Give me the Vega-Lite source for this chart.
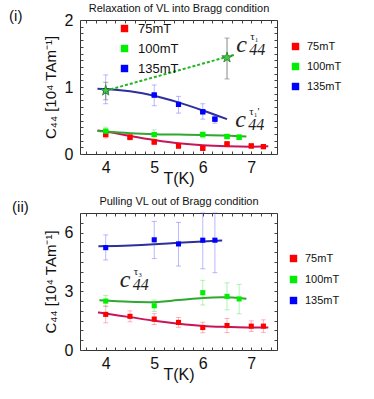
{
  "$schema": "https://vega.github.io/schema/vega-lite/v6.json",
  "background": "white",
  "padding": {"left": 8, "top": 2, "right": 0, "bottom": 0},
  "spacing": 8,
  "config": {
    "font": "Liberation Sans",
    "view": {"stroke": "#333333", "strokeWidth": 1},
    "axis": {
      "grid": false, "domain": false, "tickColor": "#444444", "tickSize": -3, "tickWidth": 1,
      "labelFont": "Liberation Sans", "labelFontSize": 16, "labelColor": "#111111",
      "labelOverlap": false, "labelBound": false, "labelFlush": false,
      "titleFont": "Liberation Sans", "titleFontWeight": "normal", "titleColor": "#111111"
    },
    "title": {"font": "Liberation Sans", "fontWeight": "normal", "color": "#111111"}
  },
  "resolve": {"scale": {"color": "independent", "fill": "independent"}, "legend": {"color": "independent", "fill": "independent"}},
  "datasets": {
    "p1pts": [
      {"series": "75mT", "T": 4, "C": 0.29, "lo": 0.24, "hi": 0.35},
      {"series": "75mT", "T": 4.5, "C": 0.25, "lo": 0.21, "hi": 0.29},
      {"series": "75mT", "T": 5, "C": 0.18, "lo": 0.14, "hi": 0.22},
      {"series": "75mT", "T": 5.5, "C": 0.12, "lo": 0.09, "hi": 0.15},
      {"series": "75mT", "T": 6, "C": 0.085, "lo": 0.06, "hi": 0.11},
      {"series": "75mT", "T": 6.5, "C": 0.15, "lo": 0.12, "hi": 0.18},
      {"series": "75mT", "T": 7, "C": 0.12, "lo": 0.1, "hi": 0.14},
      {"series": "75mT", "T": 7.25, "C": 0.11, "lo": 0.09, "hi": 0.13},
      {"series": "100mT", "T": 4, "C": 0.34, "lo": 0.29, "hi": 0.4},
      {"series": "100mT", "T": 5, "C": 0.29, "lo": 0.22, "hi": 0.36},
      {"series": "100mT", "T": 6, "C": 0.29, "lo": 0.24, "hi": 0.34},
      {"series": "100mT", "T": 6.5, "C": 0.26, "lo": 0.23, "hi": 0.3},
      {"series": "100mT", "T": 6.75, "C": 0.25, "lo": 0.22, "hi": 0.29},
      {"series": "135mT", "T": 4, "C": 0.945, "lo": 0.75, "hi": 1.18},
      {"series": "135mT", "T": 5, "C": 0.88, "lo": 0.72, "hi": 1.03},
      {"series": "135mT", "T": 5.5, "C": 0.74, "lo": 0.61, "hi": 0.86},
      {"series": "135mT", "T": 6, "C": 0.63, "lo": 0.52, "hi": 0.75},
      {"series": "135mT", "T": 6.25, "C": 0.52, "lo": 0.46, "hi": 0.57}
    ],
    "p1fit": [
      {"series": "75mT", "T": 3.83, "C": 0.35},
      {"series": "75mT", "T": 4, "C": 0.335},
      {"series": "75mT", "T": 4.5, "C": 0.27},
      {"series": "75mT", "T": 5, "C": 0.21},
      {"series": "75mT", "T": 5.5, "C": 0.16},
      {"series": "75mT", "T": 6, "C": 0.13},
      {"series": "75mT", "T": 6.5, "C": 0.115},
      {"series": "75mT", "T": 7, "C": 0.11},
      {"series": "75mT", "T": 7.35, "C": 0.115},
      {"series": "100mT", "T": 3.83, "C": 0.345},
      {"series": "100mT", "T": 4, "C": 0.335},
      {"series": "100mT", "T": 4.5, "C": 0.31},
      {"series": "100mT", "T": 5, "C": 0.295},
      {"series": "100mT", "T": 5.5, "C": 0.29},
      {"series": "100mT", "T": 6, "C": 0.285},
      {"series": "100mT", "T": 6.5, "C": 0.275},
      {"series": "100mT", "T": 6.9, "C": 0.26},
      {"series": "135mT", "T": 3.83, "C": 0.975},
      {"series": "135mT", "T": 4, "C": 0.97},
      {"series": "135mT", "T": 4.5, "C": 0.935},
      {"series": "135mT", "T": 5, "C": 0.87},
      {"series": "135mT", "T": 5.5, "C": 0.77},
      {"series": "135mT", "T": 6, "C": 0.65},
      {"series": "135mT", "T": 6.5, "C": 0.52}
    ],
    "p1stars": [
      {"T": 4, "C": 0.945, "lo": 0.81, "hi": 1.07},
      {"T": 6.5, "C": 1.44, "lo": 1.12, "hi": 1.73}
    ],
    "p1dash": [
      {"T": 4, "C": 0.945},
      {"T": 6.65, "C": 1.48}
    ],
    "p1ann": [
      {"T": 6.69, "C": 1.52, "c": "c", "sub": "44", "sup": "τ₁"},
      {"T": 6.67, "C": 0.40, "c": "c", "sub": "44", "sup": "τ₁'"}
    ],
    "p2pts": [
      {"series": "75mT", "T": 4, "C": 1.82, "lo": 1.39, "hi": 2.25},
      {"series": "75mT", "T": 4.5, "C": 1.72, "lo": 1.44, "hi": 2.0},
      {"series": "75mT", "T": 5, "C": 1.58, "lo": 1.3, "hi": 1.86},
      {"series": "75mT", "T": 5.5, "C": 1.41, "lo": 1.16, "hi": 1.66},
      {"series": "75mT", "T": 6, "C": 1.15, "lo": 0.88, "hi": 1.42},
      {"series": "75mT", "T": 6.5, "C": 1.25, "lo": 0.89, "hi": 1.61},
      {"series": "75mT", "T": 7, "C": 1.22, "lo": 0.95, "hi": 1.49},
      {"series": "75mT", "T": 7.25, "C": 1.22, "lo": 0.9, "hi": 1.54},
      {"series": "100mT", "T": 4, "C": 2.5, "lo": 2.22, "hi": 2.78},
      {"series": "100mT", "T": 5, "C": 2.26, "lo": 1.97, "hi": 2.55},
      {"series": "100mT", "T": 6, "C": 2.93, "lo": 2.3, "hi": 3.56},
      {"series": "100mT", "T": 6.5, "C": 2.74, "lo": 2.05, "hi": 3.43},
      {"series": "100mT", "T": 6.75, "C": 2.61, "lo": 1.85, "hi": 3.35},
      {"series": "135mT", "T": 4, "C": 5.23, "lo": 4.6, "hi": 5.88},
      {"series": "135mT", "T": 5, "C": 5.63, "lo": 4.67, "hi": 6.57},
      {"series": "135mT", "T": 5.5, "C": 5.42, "lo": 4.29, "hi": 6.52},
      {"series": "135mT", "T": 6, "C": 5.61, "lo": 4.15, "hi": 7.0},
      {"series": "135mT", "T": 6.25, "C": 5.61, "lo": 3.95, "hi": 7.0}
    ],
    "p2fit": [
      {"series": "75mT", "T": 3.84, "C": 1.92},
      {"series": "75mT", "T": 4, "C": 1.86},
      {"series": "75mT", "T": 4.5, "C": 1.68},
      {"series": "75mT", "T": 5, "C": 1.49},
      {"series": "75mT", "T": 5.5, "C": 1.34},
      {"series": "75mT", "T": 6, "C": 1.23},
      {"series": "75mT", "T": 6.5, "C": 1.18},
      {"series": "75mT", "T": 7, "C": 1.15},
      {"series": "75mT", "T": 7.35, "C": 1.15},
      {"series": "100mT", "T": 3.87, "C": 2.54},
      {"series": "100mT", "T": 4.5, "C": 2.46},
      {"series": "100mT", "T": 4.9, "C": 2.44},
      {"series": "100mT", "T": 5.5, "C": 2.55},
      {"series": "100mT", "T": 6, "C": 2.66},
      {"series": "100mT", "T": 6.4, "C": 2.69},
      {"series": "100mT", "T": 6.9, "C": 2.62},
      {"series": "135mT", "T": 3.85, "C": 5.3},
      {"series": "135mT", "T": 4.5, "C": 5.34},
      {"series": "135mT", "T": 5, "C": 5.4},
      {"series": "135mT", "T": 5.5, "C": 5.48},
      {"series": "135mT", "T": 6, "C": 5.55},
      {"series": "135mT", "T": 6.4, "C": 5.6}
    ],
    "p2ann": [
      {"T": 4.29, "C": 3.22, "c": "c", "sub": "44", "sup": "τ₃"}
    ]
  },
  "vconcat": [
    {
      "width": 197,
      "height": 134,
      "title": {"text": "(i)", "anchor": "start", "frame": "bounds", "fontSize": 15, "dx": -34, "dy": 25},
      "resolve": {"scale": {"color": "independent", "fill": "independent"}, "legend": {"color": "independent", "fill": "independent"}, "axis": {"x": "independent", "y": "independent"}},
      "layer": [
        {
          "data": {"name": "p1fit"},
          "mark": {"type": "line", "interpolate": "monotone", "strokeWidth": 2},
          "encoding": {
            "x": {"field": "T", "type": "quantitative", "scale": {"domain": [3.47, 7.53], "nice": false, "zero": false},
              "axis": {"orient": "bottom", "title": "T(K)", "titleFontSize": 16, "titlePadding": -5, "labelPadding": 8,
                "values": [3.6, 3.8, 4, 4.2, 4.4, 4.6, 4.8, 5, 5.2, 5.4, 5.6, 5.8, 6, 6.2, 6.4, 6.6, 6.8, 7, 7.2, 7.4],
                "labelExpr": "datum.value % 1 === 0 ? '' + datum.value : ''"}},
            "y": {"field": "C", "type": "quantitative", "scale": {"domain": [0, 2], "nice": false},
              "axis": {"orient": "left", "title": "C₄₄  [10⁴ TAm⁻¹]", "titleFontSize": 15, "titlePadding": 6, "labelPadding": 10,
                "values": [0, 0.1, 0.2, 0.3, 0.4, 0.5, 0.6, 0.7, 0.8, 0.9, 1, 1.1, 1.2, 1.3, 1.4, 1.5, 1.6, 1.7, 1.8, 1.9, 2],
                "labelExpr": "datum.value % 1 === 0 ? '' + datum.value : ''"}},
            "color": {"field": "series", "type": "nominal", "scale": {"domain": ["75mT", "100mT", "135mT"], "range": ["#c8155a", "#2ea82e", "#2f2f9c"]}, "legend": null}
          }
        },
        {
          "data": {"name": "p1pts"},
          "mark": {"type": "errorbar", "ticks": true, "opacity": 0.4, "thickness": 1},
          "encoding": {
            "x": {"field": "T", "type": "quantitative", "scale": {"domain": [3.47, 7.53], "nice": false, "zero": false},
              "axis": {"orient": "top", "title": "Relaxation of VL into Bragg condition", "titleFontSize": 11, "titlePadding": 6, "labels": false,
                "values": [3.6, 3.8, 4, 4.2, 4.4, 4.6, 4.8, 5, 5.2, 5.4, 5.6, 5.8, 6, 6.2, 6.4, 6.6, 6.8, 7, 7.2, 7.4]}},
            "y": {"field": "lo", "type": "quantitative", "scale": {"domain": [0, 2], "nice": false},
              "axis": {"orient": "right", "title": null, "labels": false,
                "values": [0, 0.1, 0.2, 0.3, 0.4, 0.5, 0.6, 0.7, 0.8, 0.9, 1, 1.1, 1.2, 1.3, 1.4, 1.5, 1.6, 1.7, 1.8, 1.9, 2]}},
            "y2": {"field": "hi"},
            "color": {"field": "series", "type": "nominal", "scale": {"domain": ["75mT", "100mT", "135mT"], "range": ["#ff4060", "#40e040", "#5050ff"]}, "legend": null}
          }
        },
        {
          "data": {"name": "p1dash"},
          "mark": {"type": "line", "color": "#22b622", "strokeWidth": 2, "strokeDash": [3, 2]},
          "encoding": {
            "x": {"field": "T", "type": "quantitative", "scale": {"domain": [3.47, 7.53], "nice": false, "zero": false}, "axis": null},
            "y": {"field": "C", "type": "quantitative", "scale": {"domain": [0, 2], "nice": false}, "axis": null}
          }
        },
        {
          "data": {"name": "p1stars"},
          "mark": {"type": "errorbar", "ticks": true, "color": "#888888", "thickness": 1},
          "encoding": {
            "x": {"field": "T", "type": "quantitative", "scale": {"domain": [3.47, 7.53], "nice": false, "zero": false}, "axis": null},
            "y": {"field": "lo", "type": "quantitative", "scale": {"domain": [0, 2], "nice": false}, "axis": null},
            "y2": {"field": "hi"}
          }
        },
        {
          "data": {"name": "p1pts"},
          "mark": {"type": "point", "filled": true, "shape": "square", "opacity": 1, "size": 26, "strokeWidth": 0},
          "encoding": {
            "x": {"field": "T", "type": "quantitative", "scale": {"domain": [3.47, 7.53], "nice": false, "zero": false}, "axis": null},
            "y": {"field": "C", "type": "quantitative", "scale": {"domain": [0, 2], "nice": false}, "axis": null},
            "color": {"field": "series", "type": "nominal", "scale": {"domain": ["75mT", "100mT", "135mT"], "range": ["#ff0000", "#00ee00", "#0000ff"]},
              "legend": {"orient": "none", "legendX": 210, "legendY": 21, "title": null, "padding": 0, "symbolType": "square", "symbolSize": 55, "symbolStrokeWidth": 0,
                "labelFontSize": 11, "labelFont": "Liberation Sans", "labelColor": "#111111", "labelOffset": 6, "rowPadding": 8, "symbolOpacity": 1}}
          }
        },
        {
          "data": {"name": "p1pts"},
          "mark": {"type": "point", "filled": true, "shape": "square", "opacity": 1, "size": 26, "strokeWidth": 0},
          "encoding": {
            "x": {"field": "T", "type": "quantitative", "scale": {"domain": [3.47, 7.53], "nice": false, "zero": false}, "axis": null},
            "y": {"field": "C", "type": "quantitative", "scale": {"domain": [0, 2], "nice": false}, "axis": null},
            "fill": {"field": "series", "type": "nominal", "scale": {"domain": ["75mT", "100mT", "135mT"], "range": ["#ff0000", "#00ee00", "#0000ff"]},
              "legend": {"orient": "none", "legendX": 38, "legendY": 2, "title": null, "padding": 0, "symbolType": "square", "symbolSize": 55, "symbolStrokeWidth": 0,
                "labelFontSize": 13, "labelFont": "Liberation Sans", "labelColor": "#111111", "labelOffset": 7, "rowPadding": 6, "symbolOpacity": 1}}
          }
        },
        {
          "data": {"name": "p1stars"},
          "mark": {"type": "point", "filled": true, "shape": "M0,-1L0.2245,-0.309L0.951,-0.309L0.363,0.118L0.588,0.809L0,0.382L-0.588,0.809L-0.363,0.118L-0.951,-0.309L-0.2245,-0.309Z", "size": 120, "fill": "#3ccc3c", "stroke": "#2a7a2a", "strokeWidth": 0.8, "opacity": 1},
          "encoding": {
            "x": {"field": "T", "type": "quantitative", "scale": {"domain": [3.47, 7.53], "nice": false, "zero": false}, "axis": null},
            "y": {"field": "C", "type": "quantitative", "scale": {"domain": [0, 2], "nice": false}, "axis": null}
          }
        },
        {
          "data": {"name": "p1ann"},
          "mark": {"type": "text", "align": "left", "baseline": "alphabetic", "font": "Liberation Serif", "fontStyle": "italic", "fontSize": 24, "color": "#222222"},
          "encoding": {
            "x": {"field": "T", "type": "quantitative", "scale": {"domain": [3.47, 7.53], "nice": false, "zero": false}, "axis": null},
            "y": {"field": "C", "type": "quantitative", "scale": {"domain": [0, 2], "nice": false}, "axis": null},
            "text": {"field": "c"}
          }
        },
        {
          "data": {"name": "p1ann"},
          "mark": {"type": "text", "align": "left", "baseline": "alphabetic", "font": "Liberation Serif", "fontStyle": "italic", "fontSize": 16, "dx": 13, "dy": 3, "color": "#222222"},
          "encoding": {
            "x": {"field": "T", "type": "quantitative", "scale": {"domain": [3.47, 7.53], "nice": false, "zero": false}, "axis": null},
            "y": {"field": "C", "type": "quantitative", "scale": {"domain": [0, 2], "nice": false}, "axis": null},
            "text": {"field": "sub"}
          }
        },
        {
          "data": {"name": "p1ann"},
          "mark": {"type": "text", "align": "left", "baseline": "alphabetic", "font": "Liberation Serif", "fontSize": 11, "dx": 14, "dy": -12, "color": "#222222"},
          "encoding": {
            "x": {"field": "T", "type": "quantitative", "scale": {"domain": [3.47, 7.53], "nice": false, "zero": false}, "axis": null},
            "y": {"field": "C", "type": "quantitative", "scale": {"domain": [0, 2], "nice": false}, "axis": null},
            "text": {"field": "sup"}
          }
        }
      ]
    },
    {
      "width": 197,
      "height": 137,
      "title": {"text": "(ii)", "anchor": "start", "frame": "bounds", "fontSize": 15, "dx": -31, "dy": 23},
      "resolve": {"scale": {"color": "independent"}, "legend": {"color": "independent"}, "axis": {"x": "independent", "y": "independent"}},
      "layer": [
        {
          "data": {"name": "p2fit"},
          "mark": {"type": "line", "interpolate": "monotone", "strokeWidth": 2},
          "encoding": {
            "x": {"field": "T", "type": "quantitative", "scale": {"domain": [3.47, 7.53], "nice": false, "zero": false},
              "axis": {"orient": "bottom", "title": "T(K)", "titleFontSize": 16, "titlePadding": -5, "labelPadding": 8,
                "values": [3.6, 3.8, 4, 4.2, 4.4, 4.6, 4.8, 5, 5.2, 5.4, 5.6, 5.8, 6, 6.2, 6.4, 6.6, 6.8, 7, 7.2, 7.4],
                "labelExpr": "datum.value % 1 === 0 ? '' + datum.value : ''"}},
            "y": {"field": "C", "type": "quantitative", "scale": {"domain": [0, 7], "nice": false},
              "axis": {"orient": "left", "title": "C₄₄  [10⁴ TAm⁻¹]", "titleFontSize": 15, "titlePadding": 6, "labelPadding": 10,
                "values": [0, 0.5, 1, 1.5, 2, 2.5, 3, 3.5, 4, 4.5, 5, 5.5, 6, 6.5, 7],
                "labelExpr": "datum.value % 3 === 0 ? '' + datum.value : ''"}},
            "color": {"field": "series", "type": "nominal", "scale": {"domain": ["75mT", "100mT", "135mT"], "range": ["#c8155a", "#2ea82e", "#2f2f9c"]}, "legend": null}
          }
        },
        {
          "data": {"name": "p2pts"},
          "mark": {"type": "errorbar", "ticks": true, "opacity": 0.4, "thickness": 1},
          "encoding": {
            "x": {"field": "T", "type": "quantitative", "scale": {"domain": [3.47, 7.53], "nice": false, "zero": false},
              "axis": {"orient": "top", "title": "Pulling VL out of Bragg condition", "titleFontSize": 11, "titlePadding": 6, "labels": false,
                "values": [3.6, 3.8, 4, 4.2, 4.4, 4.6, 4.8, 5, 5.2, 5.4, 5.6, 5.8, 6, 6.2, 6.4, 6.6, 6.8, 7, 7.2, 7.4]}},
            "y": {"field": "lo", "type": "quantitative", "scale": {"domain": [0, 7], "nice": false},
              "axis": {"orient": "right", "title": null, "labels": false,
                "values": [0, 0.5, 1, 1.5, 2, 2.5, 3, 3.5, 4, 4.5, 5, 5.5, 6, 6.5, 7]}},
            "y2": {"field": "hi"},
            "color": {"field": "series", "type": "nominal", "scale": {"domain": ["75mT", "100mT", "135mT"], "range": ["#ff4060", "#40e040", "#5050ff"]}, "legend": null}
          }
        },
        {
          "data": {"name": "p2pts"},
          "mark": {"type": "point", "filled": true, "shape": "square", "opacity": 1, "size": 26, "strokeWidth": 0},
          "encoding": {
            "x": {"field": "T", "type": "quantitative", "scale": {"domain": [3.47, 7.53], "nice": false, "zero": false}, "axis": null},
            "y": {"field": "C", "type": "quantitative", "scale": {"domain": [0, 7], "nice": false}, "axis": null},
            "color": {"field": "series", "type": "nominal", "scale": {"domain": ["75mT", "100mT", "135mT"], "range": ["#ff0000", "#00ee00", "#0000ff"]},
              "legend": {"orient": "none", "legendX": 208, "legendY": 40, "title": null, "padding": 0, "symbolType": "square", "symbolSize": 55, "symbolStrokeWidth": 0,
                "labelFontSize": 11, "labelFont": "Liberation Sans", "labelColor": "#111111", "labelOffset": 6, "rowPadding": 9, "symbolOpacity": 1}}
          }
        },
        {
          "data": {"name": "p2ann"},
          "mark": {"type": "text", "align": "left", "baseline": "alphabetic", "font": "Liberation Serif", "fontStyle": "italic", "fontSize": 24, "color": "#222222"},
          "encoding": {
            "x": {"field": "T", "type": "quantitative", "scale": {"domain": [3.47, 7.53], "nice": false, "zero": false}, "axis": null},
            "y": {"field": "C", "type": "quantitative", "scale": {"domain": [0, 7], "nice": false}, "axis": null},
            "text": {"field": "c"}
          }
        },
        {
          "data": {"name": "p2ann"},
          "mark": {"type": "text", "align": "left", "baseline": "alphabetic", "font": "Liberation Serif", "fontStyle": "italic", "fontSize": 16, "dx": 13, "dy": 3, "color": "#222222"},
          "encoding": {
            "x": {"field": "T", "type": "quantitative", "scale": {"domain": [3.47, 7.53], "nice": false, "zero": false}, "axis": null},
            "y": {"field": "C", "type": "quantitative", "scale": {"domain": [0, 7], "nice": false}, "axis": null},
            "text": {"field": "sub"}
          }
        },
        {
          "data": {"name": "p2ann"},
          "mark": {"type": "text", "align": "left", "baseline": "alphabetic", "font": "Liberation Serif", "fontSize": 11, "dx": 14, "dy": -12, "color": "#222222"},
          "encoding": {
            "x": {"field": "T", "type": "quantitative", "scale": {"domain": [3.47, 7.53], "nice": false, "zero": false}, "axis": null},
            "y": {"field": "C", "type": "quantitative", "scale": {"domain": [0, 7], "nice": false}, "axis": null},
            "text": {"field": "sup"}
          }
        }
      ]
    }
  ]
}
